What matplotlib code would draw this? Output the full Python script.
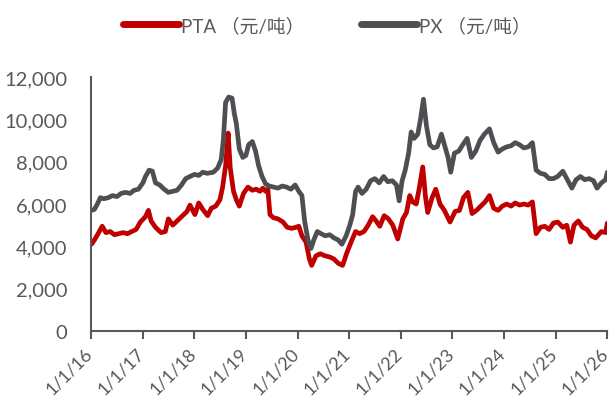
import matplotlib
matplotlib.use("Agg")
import matplotlib.pyplot as plt
import matplotlib.transforms as mtransforms
import pandas as pd

px_dates = ["2016-01-04","2016-01-25","2016-02-15","2016-03-07","2016-04-01","2016-05-02","2016-06-01","2016-07-01","2016-08-01","2016-09-01","2016-10-03","2016-11-01","2016-12-01",
"2017-01-02","2017-01-20","2017-02-15","2017-03-10","2017-04-01","2017-05-01","2017-06-01","2017-07-01","2017-08-01","2017-09-01","2017-10-02","2017-11-01","2017-12-01",
"2018-01-02","2018-02-01","2018-03-01","2018-04-02","2018-05-15","2018-06-15","2018-07-10","2018-07-25","2018-08-10","2018-09-01","2018-09-25","2018-10-10","2018-10-25","2018-11-15","2018-12-10",
"2019-01-01","2019-01-20","2019-02-15","2019-03-10","2019-04-01","2019-04-25","2019-05-20","2019-06-15","2019-07-15","2019-08-15","2019-09-15","2019-10-15","2019-11-15","2019-12-15",
"2020-01-10","2020-02-01","2020-02-20","2020-03-15","2020-04-05","2020-04-25","2020-05-20","2020-06-15","2020-07-15","2020-08-15","2020-09-15","2020-10-15","2020-11-10","2020-12-10",
"2021-01-05","2021-01-25","2021-02-15","2021-03-05","2021-04-01","2021-05-01","2021-06-01","2021-07-01","2021-08-01","2021-09-01","2021-10-01","2021-11-01","2021-12-01","2021-12-20",
"2022-01-10","2022-02-01","2022-02-25","2022-03-15","2022-04-05","2022-05-01","2022-05-20","2022-06-10","2022-07-01","2022-07-25","2022-08-20","2022-09-15","2022-10-15","2022-11-10","2022-12-01","2022-12-20",
"2023-01-15","2023-02-15","2023-03-15","2023-04-15","2023-05-15","2023-06-15","2023-07-15","2023-08-15","2023-09-20","2023-10-20","2023-11-20","2023-12-20",
"2024-01-20","2024-02-20","2024-03-20","2024-04-20","2024-05-20","2024-06-20","2024-07-20","2024-08-15","2024-09-15","2024-10-15","2024-11-15","2024-12-15",
"2025-01-15","2025-02-20","2025-03-20","2025-04-25","2025-05-25","2025-06-25","2025-07-25","2025-08-25","2025-09-25","2025-10-20","2025-11-20","2025-12-20","2026-01-01"]
px_values = [5700,5750,6000,6300,6250,6300,6400,6350,6500,6550,6500,6650,6700,
7000,7300,7600,7550,7000,6900,6700,6550,6600,6650,6900,7200,7300,
7400,7350,7500,7450,7500,7700,8100,9000,10800,11050,11000,10300,9800,8600,8200,
8300,8800,8950,8500,7800,7300,6950,6850,6800,6750,6850,6800,6700,6900,
6600,6400,5200,4300,3900,4300,4700,4600,4500,4550,4400,4300,4100,4500,
5000,5500,6600,6800,6500,6700,7100,7200,7000,7300,7050,7100,6900,6150,
7100,7600,8400,9400,9100,9300,10000,10950,9700,8800,8650,8700,9300,8700,8200,7500,
8400,8500,8800,9100,8200,8500,9000,9300,9550,8900,8450,8600,
8700,8750,8900,8800,8650,8700,8900,7600,7450,7400,7200,7200,
7300,7550,7200,6750,7150,7300,7150,7200,7100,6750,7000,7150,7500]

pta_dates = ["2016-01-04","2016-01-25","2016-02-20","2016-03-20","2016-04-15","2016-05-15","2016-06-15","2016-07-15","2016-08-15","2016-09-15","2016-10-15","2016-11-15","2016-12-15",
"2017-01-20","2017-02-10","2017-03-01","2017-04-01","2017-05-10","2017-06-10","2017-07-01","2017-08-01","2017-09-01","2017-10-01","2017-11-10","2017-12-01",
"2018-01-05","2018-02-01","2018-03-01","2018-04-05","2018-05-01","2018-06-01","2018-07-01","2018-07-20","2018-08-10","2018-08-28","2018-09-12","2018-10-05","2018-10-25","2018-11-15","2018-12-15",
"2019-01-15","2019-02-15","2019-03-15","2019-04-10","2019-05-01","2019-05-20","2019-06-05","2019-06-20","2019-07-15","2019-08-15","2019-09-20","2019-10-20","2019-11-20","2019-12-20",
"2020-01-10","2020-02-01","2020-03-01","2020-03-25","2020-04-10","2020-05-10","2020-06-10","2020-07-15","2020-08-15","2020-09-15","2020-10-15","2020-11-15","2020-12-15",
"2021-01-20","2021-02-15","2021-03-15","2021-04-15","2021-05-15","2021-06-15","2021-07-10","2021-08-05","2021-09-05","2021-10-05","2021-11-05","2021-12-10",
"2022-01-15","2022-02-10","2022-03-05","2022-03-25","2022-04-20","2022-05-10","2022-06-05","2022-06-25","2022-07-10","2022-08-10","2022-09-05","2022-10-05","2022-11-05","2022-12-15",
"2023-01-20","2023-02-20","2023-03-20","2023-04-20","2023-05-20","2023-06-20","2023-07-20","2023-08-20","2023-09-20","2023-10-20","2023-11-20","2023-12-20",
"2024-01-20","2024-02-20","2024-03-20","2024-04-20","2024-05-20","2024-06-20","2024-07-20","2024-08-15","2024-09-15","2024-10-15","2024-11-15","2024-12-15",
"2025-01-15","2025-02-20","2025-03-20","2025-04-15","2025-05-10","2025-06-10","2025-07-10","2025-08-10","2025-09-10","2025-10-10","2025-11-20","2025-12-20","2026-01-01"]
pta_values = [4100,4300,4600,4950,4650,4700,4550,4600,4650,4600,4700,4800,5150,
5400,5700,5200,4900,4650,4700,5300,5000,5200,5400,5650,5950,
5500,6050,5750,5450,5800,5900,6200,6800,7800,9350,7700,6600,6200,5900,6500,
6800,6650,6700,6600,6750,6600,6700,5500,5350,5300,5150,4900,4850,4900,
4950,4500,4200,3400,3100,3550,3650,3550,3500,3400,3200,3100,3700,
4300,4700,4600,4700,5000,5400,5200,4950,5450,5300,5000,4350,
5300,5600,6400,6100,6000,6700,7750,6300,5600,6300,6700,6000,5700,5150,
5650,5700,6300,6550,5550,5700,5900,6100,6400,5800,5700,5900,
6000,5900,6050,5950,6000,5950,6100,4600,4900,4950,4800,5100,
5150,4900,5000,4200,5000,5200,4900,4800,4500,4400,4700,4650,5100]

series_labels = ["PTA （元/吨）", "PX （元/吨）"]
tick_years = list(range(2016, 2027))
y_ticks = [0, 2000, 4000, 6000, 8000, 10000, 12000]

plt.rcParams['font.family'] = ['Lato', 'Noto Sans CJK SC', 'DejaVu Sans']
TXT = "#595959"

fig = plt.figure(figsize=(6.11, 4.02), dpi=100)
ax = fig.add_axes([0.149, 0.174, 0.845, 0.632])

ax.plot(pd.to_datetime(pta_dates), pta_values, color="#C00000", lw=3.4,
        solid_joinstyle="round", solid_capstyle="round", label=series_labels[0])
ax.plot(pd.to_datetime(px_dates), px_values, color="#4D4F52", lw=3.4,
        solid_joinstyle="round", solid_capstyle="round", label=series_labels[1])

ax.set_ylim(0, 12000)
ax.set_yticks(y_ticks)
ax.set_yticklabels([f"{v:,}" for v in y_ticks])
xt = [pd.Timestamp(f"{y}-01-01") for y in tick_years]
ax.set_xlim(xt[0], xt[-1])
ax.set_xticks(xt)
ax.set_xticklabels([f"1/1/{y % 100}" for y in tick_years], rotation=45,
                   ha="right", rotation_mode="anchor")

for s in ["top", "right"]:
    ax.spines[s].set_visible(False)
for s in ["left", "bottom"]:
    ax.spines[s].set_color(TXT)
    ax.spines[s].set_linewidth(1.5)
ax.tick_params(axis="y", length=0, labelsize=14.5, colors=TXT, pad=17)
ax.tick_params(axis="x", length=6, width=1.5, color=TXT, labelsize=13,
               labelcolor=TXT, pad=4)

shift = mtransforms.ScaledTranslation(-7 / 100, 0, fig.dpi_scale_trans)
for lab in ax.get_xticklabels():
    lab.set_transform(lab.get_transform() + shift)

leg = fig.legend(loc="center", bbox_to_anchor=(0.535, 0.935), ncol=2, frameon=False,
                 fontsize=13.5, handlelength=3.0, handletextpad=0.1, columnspacing=3.0,
                 labelcolor=TXT)
for l in leg.get_lines():
    l.set_linewidth(5)

fig.savefig("out.png", dpi=100)
